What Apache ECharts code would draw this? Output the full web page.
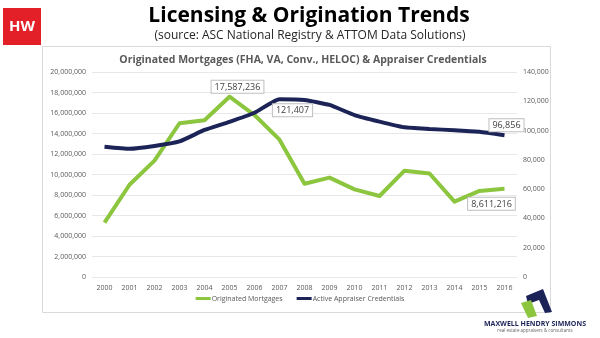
<!DOCTYPE html>
<html><head><meta charset="utf-8">
<script src="https://cdn.jsdelivr.net/npm/echarts@6/dist/echarts.min.js"></script>
<style>html,body{margin:0;padding:0;background:#fff}#c{width:600px;height:338px}</style>
</head><body><div id="c"></div>
<script>
const years = ['2000','2001','2002','2003','2004','2005','2006','2007','2008','2009','2010','2011','2012','2013','2014','2015','2016'];
const mortgages = [5300000, 9000000, 11350000, 15000000, 15300000, 17587236, 15800000, 13400000, 9100000, 9700000, 8550000, 7900000, 10370000, 10100000, 7350000, 8400000, 8611216];
const credentials = [89000, 87600, 89500, 92600, 100400, 106000, 112200, 121407, 120900, 117500, 110600, 106100, 102200, 101100, 100200, 99200, 96856];
const leftTicks = {min: 0, max: 20000000, interval: 2000000};
const rightTicks = {min: 0, max: 140000, interval: 20000};

const GREEN = '#8cc63f', NAVY = '#1c2457';
const FONT = '"Open Sans", "Noto Sans", sans-serif';
const fmt = v => v.toLocaleString('en-US');
const boxLabel = (pos, off) => ({show: true, position: pos, distance: 4, offset: off, formatter: p => fmt(p.value),
  color: '#404040', fontSize: 9, fontFamily: FONT, backgroundColor: '#fff', borderColor: '#bfbfbf', borderWidth: 1, padding: [2, 3, 1, 3]});

const mData = mortgages.map((v, i) => {
  if (i === 5) return {value: v, label: boxLabel('top', [8, 0])};
  if (i === 16) return {value: v, label: boxLabel('bottom', [-13, 5])};
  return v;
});
const cData = credentials.map((v, i) => {
  if (i === 7) return {value: v, label: boxLabel('bottom', [13, 1])};
  if (i === 16) return {value: v, label: boxLabel('top', [2, 0])};
  return v;
});

const chart = echarts.init(document.getElementById('c'), null, {renderer: 'canvas'});
const axisLbl = {color: '#595959', fontSize: 7, fontFamily: FONT};
chart.setOption({
  backgroundColor: '#fff',
  animation: false,
  title: [
    {text: 'Licensing & Origination Trends', left: 304, textAlign: 'center', top: 1, textStyle: {fontFamily: FONT, fontSize: 21, fontWeight: 'bold', color: '#000'}},
    {text: '(source: ASC National Registry & ATTOM Data Solutions)', left: 305, textAlign: 'center', top: 25, textStyle: {fontFamily: FONT, fontSize: 12, fontWeight: 'normal', color: '#262626'}},
    {text: 'Originated Mortgages (FHA, VA, Conv., HELOC) & Appraiser Credentials', left: 298, textAlign: 'center', top: 50, textStyle: {fontFamily: FONT, fontSize: 10.5, fontWeight: 'bold', color: '#595959'}}
  ],
  grid: {left: 92, right: 83, top: 72, bottom: 61},
  legend: {bottom: 31, left: 'center', itemWidth: 15, itemHeight: 3, itemGap: 14, icon: 'rect',
    textStyle: {color: '#595959', fontSize: 7, fontFamily: FONT, padding: [0, 0, 0, -4]},
    data: ['Originated Mortgages', 'Active Appraiser Credentials']},
  xAxis: {type: 'category', data: years, boundaryGap: true,
    axisLine: {show: false}, axisTick: {show: false}, axisLabel: Object.assign({margin: 7}, axisLbl)},
  yAxis: [
    {type: 'value', min: leftTicks.min, max: leftTicks.max, interval: leftTicks.interval, position: 'left',
      axisLabel: Object.assign({formatter: v => fmt(v), margin: 6}, axisLbl),
      splitLine: {lineStyle: {color: '#e8e8e8', width: 1}}, axisLine: {show: false}, axisTick: {show: false}},
    {type: 'value', min: rightTicks.min, max: rightTicks.max, interval: rightTicks.interval, position: 'right',
      axisLabel: Object.assign({formatter: v => fmt(v), margin: 6}, axisLbl),
      splitLine: {show: false}, axisLine: {show: false}, axisTick: {show: false}}
  ],
  series: [
    {name: 'Originated Mortgages', type: 'line', yAxisIndex: 0, data: mData, symbol: 'circle', symbolSize: 0, showSymbol: true,
      lineStyle: {color: GREEN, width: 4, join: 'round'}, itemStyle: {color: GREEN}, z: 2},
    {name: 'Active Appraiser Credentials', type: 'line', yAxisIndex: 1, data: cData, symbol: 'circle', symbolSize: 0, showSymbol: true,
      smooth: 0.15, lineStyle: {color: NAVY, width: 4}, itemStyle: {color: NAVY}, z: 3}
  ],
  graphic: [
    {type: 'rect', shape: {x: 42.5, y: 46.5, width: 508, height: 266}, style: {fill: 'none', stroke: '#d9d9d9', lineWidth: 1}, z: -1},
    {type: 'rect', shape: {x: 3, y: 8, width: 38, height: 37}, style: {fill: '#e32028'}},
    {type: 'text', x: 22, y: 27, style: {text: 'HW', fill: '#fff', font: 'bold 15px ' + FONT, textAlign: 'center', textVerticalAlign: 'middle'}},
    {type: 'polygon', shape: {points: [[526, 296], [543, 289], [552, 312], [545, 313], [539, 300], [528, 304]]}, style: {fill: NAVY}},
    {type: 'polygon', shape: {points: [[521, 303], [531, 300], [537, 316], [528, 318]]}, style: {fill: GREEN}},
    {type: 'text', x: 535, y: 324, style: {text: 'MAXWELL HENDRY SIMMONS', fill: NAVY, font: 'bold 7px ' + FONT, textAlign: 'center', textVerticalAlign: 'middle'}},
    {type: 'text', x: 535, y: 331, style: {text: 'real estate appraisers & consultants', fill: '#666', font: '4.5px ' + FONT, textAlign: 'center', textVerticalAlign: 'middle'}}
  ]
});
</script></body></html>
